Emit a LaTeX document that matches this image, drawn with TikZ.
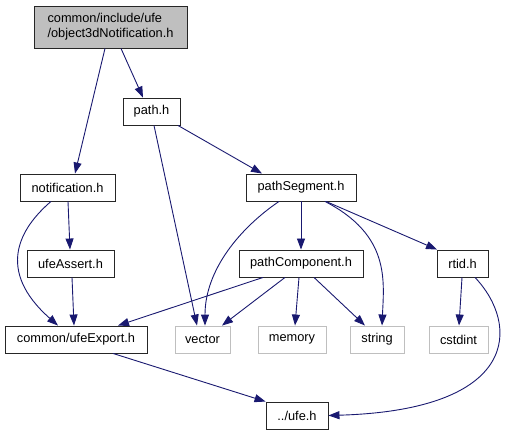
\documentclass[tikz,border=0pt]{standalone}
\usepackage{fontspec}
\setmainfont{Liberation Sans}
\usetikzlibrary{arrows.meta}
\definecolor{edgec}{HTML}{191970}
\definecolor{sysc}{HTML}{BFBFBF}
\begin{document}
\begin{tikzpicture}[x=1pt,y=-1pt,
  box/.style={draw=black!85,line width=0.9pt,fill=white,inner sep=0pt,font=\fontsize{12.8}{15}\selectfont},
  sys/.style={box,draw=sysc},
  dep/.style={draw=edgec,line width=0.9pt,-{Triangle[length=11pt,width=8pt]}}]
\useasboundingbox (0,0) rectangle (513,435);
\node[box,fill=sysc,minimum width=153pt,minimum height=42pt,align=left] (top) at (110.5,27) {common/include/ufe\\/object3dNotification.h};
\node[box,minimum width=57pt,minimum height=27pt] (path) at (151.5,111.5) {path.h};
\node[box,minimum width=95pt,minimum height=27pt] (notif) at (67.5,187.5) {notification.h};
\node[box,minimum width=110pt,minimum height=27pt] (seg) at (301,187.5) {pathSegment.h};
\node[box,minimum width=124pt,minimum height=27pt] (comp) at (301,263.5) {pathComponent.h};
\node[box,minimum width=51pt,minimum height=27pt] (rtid) at (462.5,263.5) {rtid.h};
\node[box,minimum width=87pt,minimum height=27pt] (assert) at (70.5,263.5) {ufeAssert.h};
\node[box,minimum width=142pt,minimum height=27pt] (export) at (76,339.5) {common/ufeExport.h};
\node[sys,minimum width=55pt,minimum height=27pt] (vector) at (202.5,339.5) {vector};
\node[sys,minimum width=68pt,minimum height=27pt] (memory) at (292,339.5) {memory};
\node[sys,minimum width=54pt,minimum height=27pt] (string) at (377,339.5) {string};
\node[sys,minimum width=59pt,minimum height=27pt] (cstdint) at (458.5,339.5) {cstdint};
\node[box,minimum width=62pt,minimum height=27pt] (ufe) at (297,415.5) {../ufe.h};

\draw[dep] (top.south -| 121,0) -- (path.north -| 143,0);
\draw[dep] (top.south -| 105,0) -- (notif.north -| 75,0);
\draw[dep] (path.south -| 154,0) -- (vector.north -| 197,0);
\draw[dep] (path.south -| 178,0) -- (seg.north -| 262,0);
\draw[dep] (notif.south -| 68,0) -- (assert.north -| 70,0);
\draw[dep] (notif.south -| 51,0) .. controls (20,228) and (-5,270) .. (export.north -| 58,0);
\draw[dep] (assert.south -| 72,0) -- (export.north -| 74,0);
\draw[dep] (seg.south -| 279,0) .. controls (240,228) and (205,270) .. (vector.north -| 205,0);
\draw[dep] (seg) -- (comp);
\draw[dep] (seg.south -| 325,0) .. controls (390,235) and (384,280) .. (string.north -| 382,0);
\draw[dep] (seg.south -| 326,0) -- (rtid.north -| 437,0);
\draw[dep] (comp.south -| 263,0) -- (export.north -| 118,0);
\draw[dep] (comp.south -| 285,0) -- (vector.north -| 222,0);
\draw[dep] (comp.south -| 299,0) -- (memory.north -| 295,0);
\draw[dep] (comp.south -| 314,0) -- (string.north -| 365,0);
\draw[dep] (rtid.south -| 462,0) -- (cstdint.north -| 459,0);
\draw[dep] (rtid.south -| 475,0) .. controls (520,325) and (520,410) .. (ufe.east);
\draw[dep] (export.south -| 113,0) -- (ufe.north west);
\end{tikzpicture}
\end{document}
